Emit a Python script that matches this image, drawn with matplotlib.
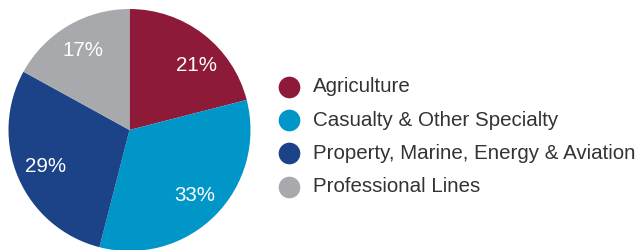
import numpy as np
import matplotlib.pyplot as plt

categories = ['Agriculture', 'Casualty & Other Specialty',
              'Property, Marine, Energy & Aviation', 'Professional Lines']
shares = [21, 33, 29, 17]
colors = ['#8c1a38', '#0096c8', '#1c4287', '#a7a9ac']

plt.rcParams['font.family'] = ['Liberation Sans', 'DejaVu Sans']

fig = plt.figure(figsize=(6.41, 2.5), dpi=100)

# pie axes: centre ~ (129.5, 130) px, radius ~121 px
ax = fig.add_axes([8.5 / 641, (250 - 251) / 250, 242 / 641, 242 / 250])
wedges, texts, autotexts = ax.pie(
    shares, colors=colors, startangle=90, counterclock=False,
    autopct='%d%%', pctdistance=0.76, radius=1,
    wedgeprops=dict(linewidth=0),
    textprops=dict(color='white', fontsize=14.8))
# the first label sits a bit lower than its wedge midpoint in the original
a = np.deg2rad(44)
autotexts[0].set_position((0.77 * np.cos(a), 0.77 * np.sin(a)))
ax.set_xlim(-1, 1)
ax.set_ylim(-1, 1)
ax.set_aspect('equal')
ax.axis('off')

# legend drawn in pixel coordinates
lax = fig.add_axes([0, 0, 1, 1])
lax.set_xlim(0, 641)
lax.set_ylim(250, 0)
lax.axis('off')
row_y = [86.7, 120, 153.3, 186.7]
for name, col, y in zip(categories, colors, row_y):
    lax.plot(289, y, 'o', color=col, markersize=15.6, markeredgewidth=0)
    lax.text(313, y, name, fontsize=14.8, color='#333333', va='center', ha='left')

fig.savefig('out.png', dpi=100)
